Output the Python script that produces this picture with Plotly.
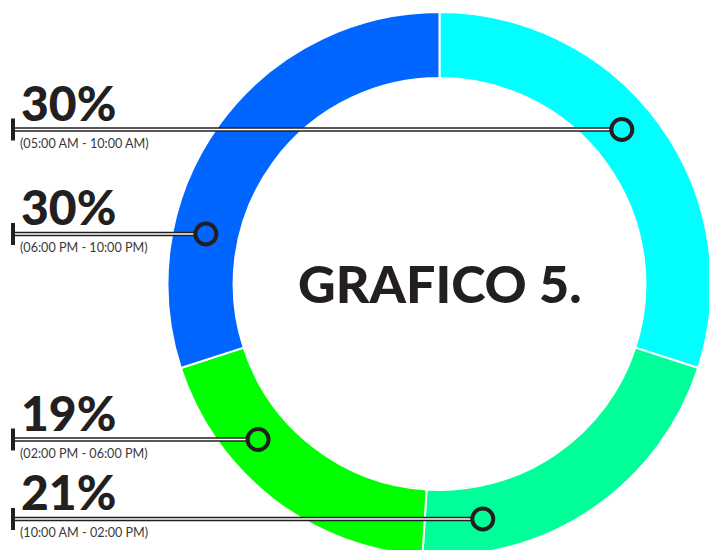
import math
import plotly.graph_objects as go

# ---------------- data ----------------
franjas = ["05:00 AM - 10:00 AM", "10:00 AM - 02:00 PM",
           "02:00 PM - 06:00 PM", "06:00 PM - 10:00 PM"]
porcentajes = [30, 21, 19, 30]
colores = ["#00FFFF", "#00FF99", "#00FF00", "#0066FF"]
titulo = "GRAFICO 5."

# order of the callouts from top to bottom (index into the slices)
orden_etiquetas = [0, 3, 2, 1]

# ---------------- layout constants (page pixels) ----------------
W, H = 717, 560          # figure size (bottom of the ring runs off the page)
OFF = 8                  # page offset of the figure (body margin)
CX, CY, R = 439.5, 284, 272
HOLE = 0.757
Y_ETIQ = [129.5, 234, 439.5, 519]
X_TICK = 13
RC = 10.5
INK = "#231f20"

fig = go.Figure()

fx0, fx1 = CX - OFF - R, CX - OFF + R
fy0, fy1 = CY - OFF - R, CY - OFF + R
fig.add_trace(go.Pie(
    values=porcentajes, labels=franjas, sort=False, direction="clockwise",
    rotation=0, hole=HOLE, textinfo="none", showlegend=False,
    marker=dict(colors=colores, line=dict(color="white", width=2)),
    domain=dict(x=[fx0 / W, fx1 / W], y=[(H - fy1) / H, (H - fy0) / H]),
))

# invisible trace to establish the pixel-scaled cartesian axes
fig.add_trace(go.Scatter(x=[OFF, OFF + W], y=[OFF, OFF + H], mode="markers",
                         marker=dict(opacity=0), hoverinfo="skip", showlegend=False))

# slice angular ranges (deg, clockwise from top)
total = sum(porcentajes)
rangos = []
acc = 0
for v in porcentajes:
    a0 = acc / total * 360
    acc += v
    rangos.append((a0, acc / total * 360))

rm = R * (1 + HOLE) / 2
shapes = []
annotations = []
for j, k in enumerate(orden_etiquetas):
    y = Y_ETIQ[j]
    c = max(-1, min(1, -(y - CY) / rm))
    t1 = math.degrees(math.acos(c))
    cands = [t1, 360 - t1]
    a0, a1 = rangos[k]
    th = None
    for t in cands:
        if a0 <= t <= a1:
            th = t
            break
    if th is None:
        mid = (a0 + a1) / 2
        th = min(cands, key=lambda t: abs(t - mid))
    mx = CX + rm * math.sin(math.radians(th))
    my = CY - rm * math.cos(math.radians(th))

    # double leader line
    shapes.append(dict(type="line", xref="x", yref="y", x0=X_TICK, x1=mx - RC, y0=y, y1=y,
                       line=dict(color=INK, width=4.6), layer="above"))
    shapes.append(dict(type="line", xref="x", yref="y", x0=X_TICK + 2, x1=mx - RC, y0=y, y1=y,
                       line=dict(color="white", width=1.6), layer="above"))
    # end tick
    shapes.append(dict(type="line", xref="x", yref="y", x0=X_TICK, x1=X_TICK, y0=y - 11, y1=y + 11,
                       line=dict(color=INK, width=4), layer="above"))
    # ring marker
    shapes.append(dict(type="circle", xref="x", yref="y", x0=mx - RC, x1=mx + RC,
                       y0=my - RC, y1=my + RC, line=dict(color=INK, width=4),
                       fillcolor="rgba(0,0,0,0)", layer="above"))

    annotations.append(dict(x=20, y=y + 2, xref="x", yref="y", xanchor="left", yanchor="bottom",
                            text=f"{porcentajes[k]}%", showarrow=False, borderpad=0,
                            font=dict(family="Lato", size=48, color=INK, weight=900)))
    annotations.append(dict(x=19, y=y + 5, xref="x", yref="y", xanchor="left", yanchor="top",
                            text=f"({franjas[k]})", showarrow=False, borderpad=0,
                            font=dict(family="Lato", size=12.6, color="#3a3a3a")))

annotations.append(dict(x=CX, y=CY - 1, xref="x", yref="y", xanchor="center", yanchor="middle",
                        text=titulo, showarrow=False,
                        font=dict(family="Lato", size=52, color=INK, weight=900)))

fig.update_layout(
    width=W, height=H, margin=dict(l=0, r=0, t=0, b=0),
    paper_bgcolor="white", plot_bgcolor="rgba(0,0,0,0)",
    xaxis=dict(range=[OFF, OFF + W], visible=False, fixedrange=True),
    yaxis=dict(range=[OFF + H, OFF], visible=False, fixedrange=True),
    shapes=shapes, annotations=annotations,
)

fig.write_html("out.html")
